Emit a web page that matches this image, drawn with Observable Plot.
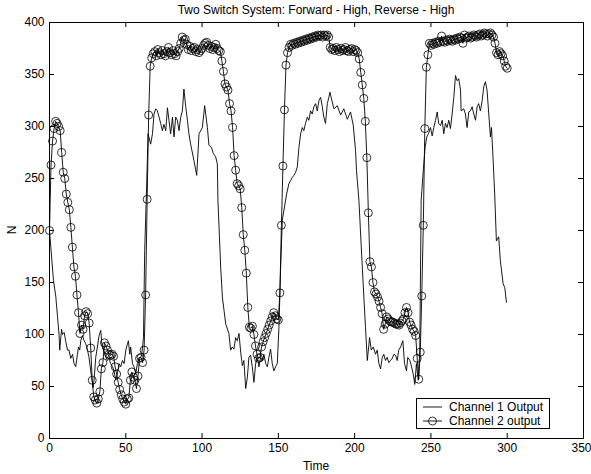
<!DOCTYPE html>
<html>
<head>
<meta charset="utf-8">
<script src="https://cdn.jsdelivr.net/npm/d3@7"></script>
<script src="https://cdn.jsdelivr.net/npm/@observablehq/plot@0.6"></script>
<style>
  html, body { margin: 0; padding: 0; background: white; }
  #chart { position: relative; width: 591px; height: 474px; }
</style>
</head>
<body>
<div id="chart"></div>
<script>
const title = "Two Switch System: Forward - High, Reverse - High";
const xLabel = "Time";
const yLabel = "N";
const seriesNames = ["Channel 1 Output", "Channel 2 output"];
const xTicks = [0, 50, 100, 150, 200, 250, 300, 350];
const yTicks = [0, 50, 100, 150, 200, 250, 300, 350, 400];

// Channel 1 (plain line): time and value
const ch1Time = [
  0,2.6,4.1,5.2,6.3,6.7,7.9,8.5,9.6,10.7,
  11.8,12.8,13.9,15.1,16.1,17.2,18.3,19,19.8,20.5,
  21.6,22.7,23.8,24.9,25.9,27,28.6,29.2,30.3,31.4,
  32.5,33.6,34.3,35.4,36.9,38,39,40.1,41.3,42.3,
  43.4,44.5,45.6,46.7,47.8,48.9,50,51.1,51.7,52.6,
  53.2,54.4,55.4,56.5,57.6,58.7,59.8,60.4,61.6,62.4,
  63.7,64.6,66.3,67.5,68.5,69.6,70.7,71.8,72.9,74,
  75,76.2,77.3,78.3,79.4,80.6,81.6,82.7,83.8,84.9,
  86,87.1,88.1,89.3,90.4,91.4,92.5,94.7,96.5,98,
  100.2,101.7,103.5,104.5,106.1,107.4,108.9,110,110.4,112.2,
  113.3,115.5,117.6,118.7,119.8,120.9,122,123.1,124.2,125.3,
  126.4,127.4,128.6,129.7,130.7,131.8,132.9,134,135.1,136.2,
  137.3,138.4,139.5,140.5,141.7,142.8,143.8,144.9,146,147.1,
  148.2,149.3,150.4,151.5,152.6,155.4,156.9,158,159.1,160.2,
  161.3,162.4,163.5,164.6,165.7,166.7,167.8,169,170,171.1,
  172.2,173.3,174.4,175.5,176.6,177.7,178.8,179.8,180.9,182.1,
  183.1,183.8,186.4,188.6,190.8,192.9,195.2,197.3,199.1,200.6,
  201.2,202.8,205,207.1,208.3,209.8,210.9,212.2,213.7,214.8,
  215.9,217,218.1,219.1,220.2,221.3,222.4,223.5,224.6,225.7,
  226.8,227.9,228.9,230.1,231.6,232.7,234,234.8,236.2,237.3,
  238.4,239.4,240.5,241.7,242.7,243.6,245,246.2,247.3,248.4,
  249.7,250.8,251.9,253,254.1,255.1,256.3,257.4,258.4,259.5,
  260.6,261.7,262.8,263.9,265,266.1,267.2,268.2,269.4,269.8,
  271.5,272.6,273.7,274.8,275.9,277,278.1,279.2,280.3,281.3,
  282.4,283.6,284.6,285.7,286.8,287.9,289,289.7,290.8,291.8,
  292.9,294.4,295.5,297.3,298.4,299.5
];
const ch1Value = [
  200,152,137,118,99,85,105,100,102,93,
  85,85,77,81,72,69,81,88,85,94,
  99,94,91,85,78,65,49,56,78,88,
  99,104,91,85,78,75,77,72,69,65,
  56,62,72,69,75,72,85,91,94,81,
  88,72,69,62,72,78,78,80,97,181,
  245,293,283,293,312,317,315,309,303,296,
  302,296,318,306,293,309,290,309,306,296,
  309,315,336,319,306,293,283,267,253,293,
  299,320,299,282,280,274,271,264,229,165,
  136,110,101,85,88,86,97,94,101,83,
  70,75,48,59,78,80,69,54,72,78,
  69,78,75,81,72,69,78,86,72,65,
  69,72,107,165,210,235,245,248,251,253,
  256,261,280,293,299,296,303,309,306,315,
  312,319,322,315,325,328,319,309,303,322,
  328,333,317,320,311,317,307,314,301,277,
  258,229,165,107,75,97,85,88,81,85,
  72,67,78,81,75,78,73,75,77,81,
  80,75,85,88,94,72,65,78,75,69,
  62,52,72,56,85,229,258,280,290,293,
  299,291,299,306,314,303,301,306,293,303,
  299,306,298,312,328,349,344,346,335,315,
  317,312,299,314,315,319,312,306,319,322,
  315,325,338,343,335,312,290,299,267,235,
  190,194,171,149,145,131
];

// Channel 2 (line with circles): one sample per time unit, t = 0..300
const ch2Value = [
  200,263,286,298,305,303,300,296,275,256,
  250,235,227,220,203,184,165,156,138,121,
  101,109,105,118,122,120,111,87,56,40,
  37,34,38,45,67,73,92,89,85,81,
  80,81,79,69,62,54,47,42,38,35,
  33,38,39,56,64,59,56,48,60,77,
  78,73,85,138,230,311,358,366,370,372,
  368,374,371,369,373,370,368,372,376,371,
  369,373,370,368,372,375,380,386,383,384,
  379,374,377,373,375,376,372,374,371,373,
  375,378,380,381,378,375,377,374,376,379,
  375,373,372,363,353,341,338,335,322,315,
  299,272,258,245,243,240,222,196,181,159,
  126,107,106,108,100,89,81,77,78,88,
  93,97,101,105,109,113,117,121,118,115,
  114,140,205,262,316,359,371,376,379,378,
  380,379,381,380,382,381,383,382,384,383,
  385,384,386,385,387,386,388,387,388,386,
  388,387,388,386,376,374,375,373,376,374,
  372,375,373,374,376,373,372,374,375,372,
  374,373,371,365,352,340,327,305,270,217,
  170,165,150,141,139,136,132,126,120,105,
  110,117,115,113,112,112,111,110,110,109,
  111,113,115,121,126,121,112,109,105,103,
  99,77,57,83,137,205,298,357,369,380,
  378,380,379,381,380,382,381,387,382,381,
  383,382,384,383,382,384,383,385,384,386,
  385,380,388,385,386,387,385,386,388,387,
  386,388,389,387,388,390,389,387,389,390,
  388,386,380,371,369,372,370,368,363,358,
  356
];
const ch2Time = ch2Value.map((_, i) => i);

const ch1 = ch1Time.map((t, i) => ({t, v: ch1Value[i]}));
const ch2 = ch2Time.map((t, i) => ({t, v: ch2Value[i]}));

const W = 591, H = 474, mL = 49, mR = 8, mT = 22, mB = 36;
const plotW = W - mL - mR, plotH = H - mT - mB;
const tick = 5;
const font = "'Liberation Sans', Arial, Helvetica, sans-serif";

const plot = Plot.plot({
  width: W,
  height: H,
  marginLeft: mL,
  marginRight: mR,
  marginTop: mT,
  marginBottom: mB,
  style: {background: "white", color: "black", fontSize: "12px", fontFamily: font, overflow: "visible"},
  x: {domain: [0, 350], ticks: xTicks, tickSize: 0, tickPadding: 5, label: null},
  y: {domain: [0, 400], ticks: yTicks, tickSize: 0, tickPadding: 5, label: null},
  marks: [
    Plot.line(ch1, {x: "t", y: "v", stroke: "black", strokeWidth: 0.9}),
    Plot.line(ch2, {x: "t", y: "v", stroke: "black", strokeWidth: 0.9}),
    Plot.dot(ch2, {x: "t", y: "v", r: 4, stroke: "black", fill: "none", strokeWidth: 0.8}),
    Plot.tickX(xTicks, {x: d => d, insetTop: plotH - tick, stroke: "black"}),
    Plot.tickX(xTicks, {x: d => d, insetBottom: plotH - tick, stroke: "black"}),
    Plot.tickY(yTicks, {y: d => d, insetRight: plotW - tick, stroke: "black"}),
    Plot.tickY(yTicks, {y: d => d, insetLeft: plotW - tick, stroke: "black"}),
    Plot.frame({stroke: "black", strokeWidth: 1})
  ]
});
document.getElementById("chart").appendChild(plot);

const svg = d3.select(plot);
// nudge the rightmost x tick label so it stays inside the picture, as in the reference
svg.selectAll("[aria-label='x-axis'] text, [aria-label='x-axis tick label'] text, g[aria-label='x-axis'] g text")
  .filter(function() { return this.textContent.trim() === "350"; })
  .attr("dx", -2);
svg.append("text")
  .attr("x", mL + plotW / 2).attr("y", 14)
  .attr("text-anchor", "middle").attr("font-size", 12).attr("font-family", font)
  .attr("fill", "black").text(title);
svg.append("text")
  .attr("x", mL + plotW / 2).attr("y", 470)
  .attr("text-anchor", "middle").attr("font-size", 12).attr("font-family", font)
  .attr("fill", "black").text(xLabel);
svg.append("text")
  .attr("transform", `translate(16,${mT + plotH / 2}) rotate(-90)`)
  .attr("text-anchor", "middle").attr("font-size", 12).attr("font-family", font)
  .attr("fill", "black").text(yLabel);

// legend
const lg = svg.append("g").attr("text-anchor", "start");
lg.append("rect").attr("x", 416.5).attr("y", 398.5).attr("width", 133).attr("height", 30)
  .attr("fill", "white").attr("stroke", "black").attr("stroke-width", 1);
lg.append("line").attr("x1", 423).attr("x2", 442).attr("y1", 407).attr("y2", 407)
  .attr("stroke", "black").attr("stroke-width", 0.9);
lg.append("line").attr("x1", 423).attr("x2", 442).attr("y1", 421).attr("y2", 421)
  .attr("stroke", "black").attr("stroke-width", 0.9);
lg.append("circle").attr("cx", 432.5).attr("cy", 421).attr("r", 4)
  .attr("fill", "none").attr("stroke", "black").attr("stroke-width", 0.8);
lg.append("text").attr("x", 449).attr("y", 411).attr("text-anchor", "start")
  .attr("font-size", 12).attr("font-family", font)
  .attr("fill", "black").text(seriesNames[0]);
lg.append("text").attr("x", 449).attr("y", 425).attr("text-anchor", "start")
  .attr("font-size", 12).attr("font-family", font)
  .attr("fill", "black").text(seriesNames[1]);
</script>
</body>
</html>
